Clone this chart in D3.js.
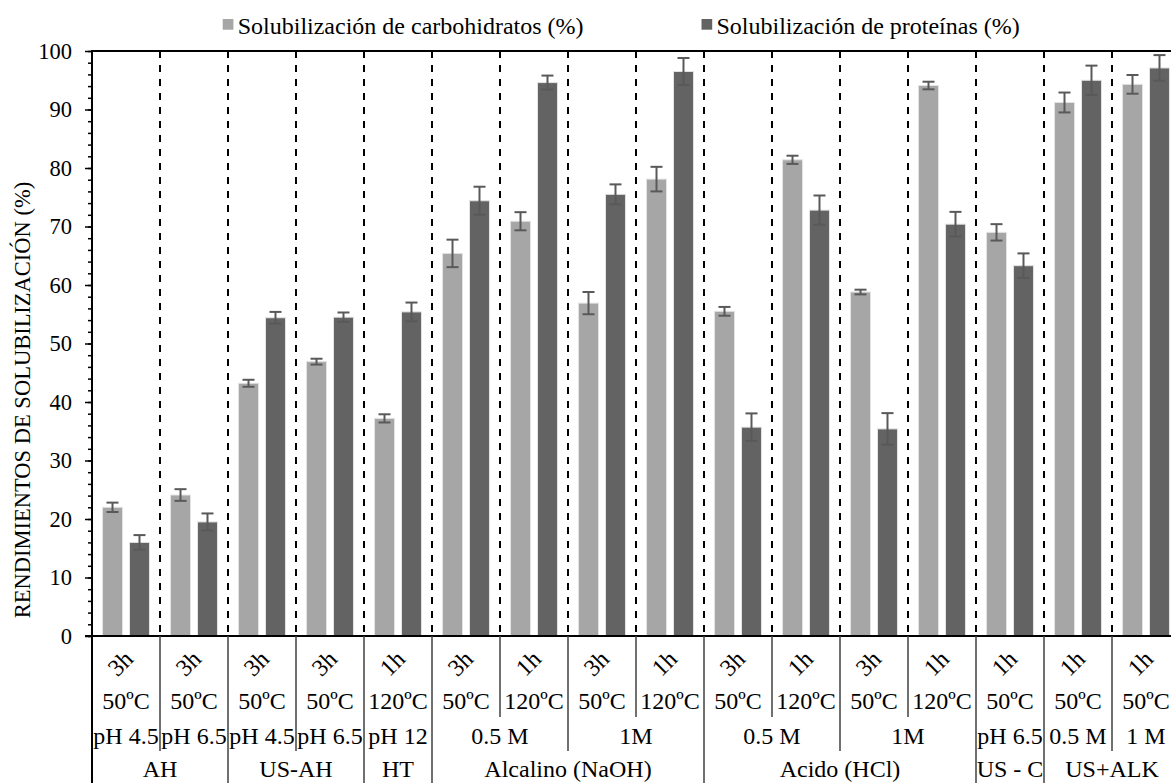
<!DOCTYPE html>
<html>
<head>
<meta charset="utf-8">
<script src="https://cdn.jsdelivr.net/npm/d3@7"></script>
<style>
  body { margin: 0; background: #fff; }
  svg { display: block; }
  svg text { font-family: "Liberation Serif", "Tinos", "Times New Roman", "DejaVu Serif", serif; }
</style>
</head>
<body>
<svg id="chart" width="1171" height="783"></svg>
<script>
// groups (16 conditions)
const groups = d3.range(16).map(i => "g" + i);
const timeLabels = ["3h","3h","3h","3h","1h","3h","1h","3h","1h","3h","1h","3h","1h","1h","1h","1h"];
const tempLabels = ["50ºC","50ºC","50ºC","50ºC","120ºC","50ºC","120ºC","50ºC","120ºC","50ºC","120ºC","50ºC","120ºC","50ºC","50ºC","50ºC"];
// level 3 labels and how many groups each one spans
const condLabels = ["pH 4.5","pH 6.5","pH 4.5","pH 6.5","pH 12","0.5 M","1M","0.5 M","1M","pH 6.5","0.5 M","1 M"];
const condSpans  = [1,1,1,1,1,2,2,2,2,1,1,1];
// level 4 labels (treatment)
const treatLabels = ["AH","US-AH","HT","Alcalino (NaOH)","Acido (HCl)","US - C","US+ALK"];
const treatSpans  = [2,2,1,4,4,1,2];

const seriesNames = ["Solubilización de carbohidratos (%)", "Solubilización de proteínas (%)"];
const carbValues = [22.0, 24.1, 43.2, 46.9, 37.2, 65.4, 70.9, 56.9, 78.1, 55.5, 81.4, 58.8, 94.1, 69.0, 91.2, 94.3];
const carbErrors = [0.8, 1.0, 0.6, 0.5, 0.7, 2.35, 1.55, 1.9, 2.1, 0.75, 0.7, 0.4, 0.65, 1.4, 1.7, 1.6];
const protValues = [16.0, 19.5, 54.4, 54.5, 55.4, 74.4, 94.6, 75.5, 96.5, 35.7, 72.8, 35.4, 70.4, 63.3, 95.0, 97.1];
const protErrors = [1.25, 1.45, 1.0, 0.8, 1.6, 2.4, 1.2, 1.7, 2.3, 2.35, 2.5, 2.7, 2.1, 2.1, 2.5, 2.2];
const yTicks = [0, 10, 20, 30, 40, 50, 60, 70, 80, 90, 100];

const colors = ["#a6a6a6", "#636363"];

const plotLeft = 92, plotRight = 1180, plotTop = 51, plotBottom = 636;
const svg = d3.select("#chart");

const x = d3.scaleBand().domain(groups).range([plotLeft, plotRight]).padding(0);
const xs = d3.scaleBand().domain([0, 1]).range([0, x.bandwidth()])
    .paddingInner(0.26).paddingOuter(0.39);
const y = d3.scaleLinear().domain([0, 100]).range([plotBottom, plotTop]);

const data = groups.map((g, i) => ({
    g: g,
    vals: [
        { s: 0, v: carbValues[i], e: carbErrors[i] },
        { s: 1, v: protValues[i], e: protErrors[i] }
    ]
}));

// dashed separators inside plot
svg.append("g")
    .selectAll("line")
    .data(groups.slice(1))
    .join("line")
    .attr("x1", d => x(d)).attr("x2", d => x(d))
    .attr("y1", plotTop).attr("y2", plotBottom)
    .attr("stroke", "#000")
    .attr("stroke-width", 2)
    .attr("stroke-dasharray", "7,7");

// bars
const gg = svg.append("g")
    .selectAll("g")
    .data(data)
    .join("g")
    .attr("transform", d => `translate(${x(d.g)},0)`);

gg.selectAll("rect")
    .data(d => d.vals)
    .join("rect")
    .attr("x", d => xs(d.s))
    .attr("width", xs.bandwidth())
    .attr("y", d => y(d.v))
    .attr("height", d => y(0) - y(d.v))
    .attr("fill", d => colors[d.s])
    .attr("stroke", "#e3e3e3")
    .attr("stroke-width", 1);

// error bars
const eb = gg.selectAll("g.err")
    .data(d => d.vals)
    .join("g")
    .attr("class", "err")
    .attr("stroke", "#595959")
    .attr("stroke-width", 2);
eb.append("line")
    .attr("x1", d => xs(d.s) + xs.bandwidth() / 2)
    .attr("x2", d => xs(d.s) + xs.bandwidth() / 2)
    .attr("y1", d => y(d.v + d.e)).attr("y2", d => y(d.v - d.e));
eb.selectAll("line.cap")
    .data(d => [d.v + d.e, d.v - d.e].map(v => ({ s: d.s, v: v })))
    .join("line")
    .attr("class", "cap")
    .attr("x1", d => xs(d.s) + xs.bandwidth() / 2 - 6)
    .attr("x2", d => xs(d.s) + xs.bandwidth() / 2 + 6)
    .attr("y1", d => y(d.v)).attr("y2", d => y(d.v));

// top border
svg.append("line")
    .attr("x1", plotLeft).attr("x2", plotRight)
    .attr("y1", plotTop).attr("y2", plotTop)
    .attr("stroke", "#000").attr("stroke-width", 2);

// y axis with minor ticks
svg.append("g")
    .attr("transform", `translate(${plotLeft},0)`)
    .call(d3.axisLeft(y).tickValues(d3.range(0, 101, 2)).tickSize(4).tickFormat(""))
    .call(g => g.select(".domain").remove())
    .call(g => g.selectAll("line").attr("stroke", "#000").attr("stroke-width", 1.5));

svg.append("g")
    .attr("transform", `translate(${plotLeft},0)`)
    .call(d3.axisLeft(y).tickValues(yTicks).tickSize(7).tickPadding(13))
    .call(g => g.attr("font-family", null).attr("font-size", null))
    .call(g => g.select(".domain").remove())
    .call(g => g.selectAll("line").attr("stroke", "#000").attr("stroke-width", 1.5))
    .call(g => g.selectAll("text")
        .style("font-size", "22.5px")
        .attr("fill", "#000"));

// axis lines
svg.append("line")
    .attr("x1", plotLeft).attr("x2", plotLeft)
    .attr("y1", plotTop - 1).attr("y2", 783)
    .attr("stroke", "#000").attr("stroke-width", 2);
svg.append("line")
    .attr("x1", plotLeft - 7).attr("x2", plotRight)
    .attr("y1", plotBottom).attr("y2", plotBottom)
    .attr("stroke", "#000").attr("stroke-width", 2);

// multi level category axis
const rowBottoms = [684, 717, 751, 783];
const rowCenters = [663, 701, 736, 769];
const sepColor = "#404040";

function cumStarts(spans) {
    const s = [];
    let c = 0;
    spans.forEach(v => { s.push(c); c += v; });
    return s;
}
const condStarts = cumStarts(condSpans);
const treatStarts = cumStarts(treatSpans);

// separator depth for each boundary index (1..15)
function sepDepth(i) {
    if (treatStarts.includes(i)) return 3;
    if (condStarts.includes(i)) return 2;
    return 1;
}
svg.append("g")
    .selectAll("line")
    .data(d3.range(1, 16))
    .join("line")
    .attr("x1", i => x(groups[i])).attr("x2", i => x(groups[i]))
    .attr("y1", plotBottom)
    .attr("y2", i => rowBottoms[sepDepth(i)])
    .attr("stroke", sepColor).attr("stroke-width", 1.5);

const cat = svg.append("g")
    .style("font-size", "24px")
    .attr("fill", "#000")
    .attr("text-anchor", "middle");

cat.selectAll("text.time")
    .data(groups)
    .join("text")
    .attr("class", "time")
    .attr("transform", (g, i) => `translate(${x(g) + x.bandwidth() / 2 - 6},${rowCenters[0]}) rotate(-45)`)
    .attr("dy", "0.35em")
    .text((g, i) => timeLabels[i]);

cat.selectAll("text.temp")
    .data(groups)
    .join("text")
    .attr("class", "temp")
    .attr("x", g => x(g) + x.bandwidth() / 2)
    .attr("y", rowCenters[1])
    .attr("dy", "0.35em")
    .text((g, i) => tempLabels[i]);

cat.selectAll("text.cond")
    .data(condLabels)
    .join("text")
    .attr("class", "cond")
    .attr("x", (d, i) => x(groups[condStarts[i]]) + condSpans[i] * x.bandwidth() / 2)
    .attr("y", rowCenters[2])
    .attr("dy", "0.35em")
    .text(d => d);

cat.selectAll("text.treat")
    .data(treatLabels)
    .join("text")
    .attr("class", "treat")
    .attr("x", (d, i) => x(groups[treatStarts[i]]) + treatSpans[i] * x.bandwidth() / 2)
    .attr("y", rowCenters[3])
    .attr("dy", "0.35em")
    .text(d => d);

// y title
svg.append("text")
    .attr("transform", "translate(22,400) rotate(-90)")
    .attr("text-anchor", "middle")
    .attr("dy", "0.35em")
    .style("font-size", "22.5px")
    .text("RENDIMIENTOS DE SOLUBILIZACIÓN (%)");

// legend
const legendX = [222.7, 701.5];
const leg = svg.append("g").selectAll("g")
    .data(seriesNames)
    .join("g")
    .attr("transform", (d, i) => `translate(${legendX[i]},19)`);
leg.append("rect")
    .attr("width", 10.7).attr("height", 10.7)
    .attr("fill", (d, i) => colors[i]);
leg.append("text")
    .attr("x", 15).attr("y", 15)
    .style("font-size", "24px")
    .text(d => d);
</script>
</body>
</html>
